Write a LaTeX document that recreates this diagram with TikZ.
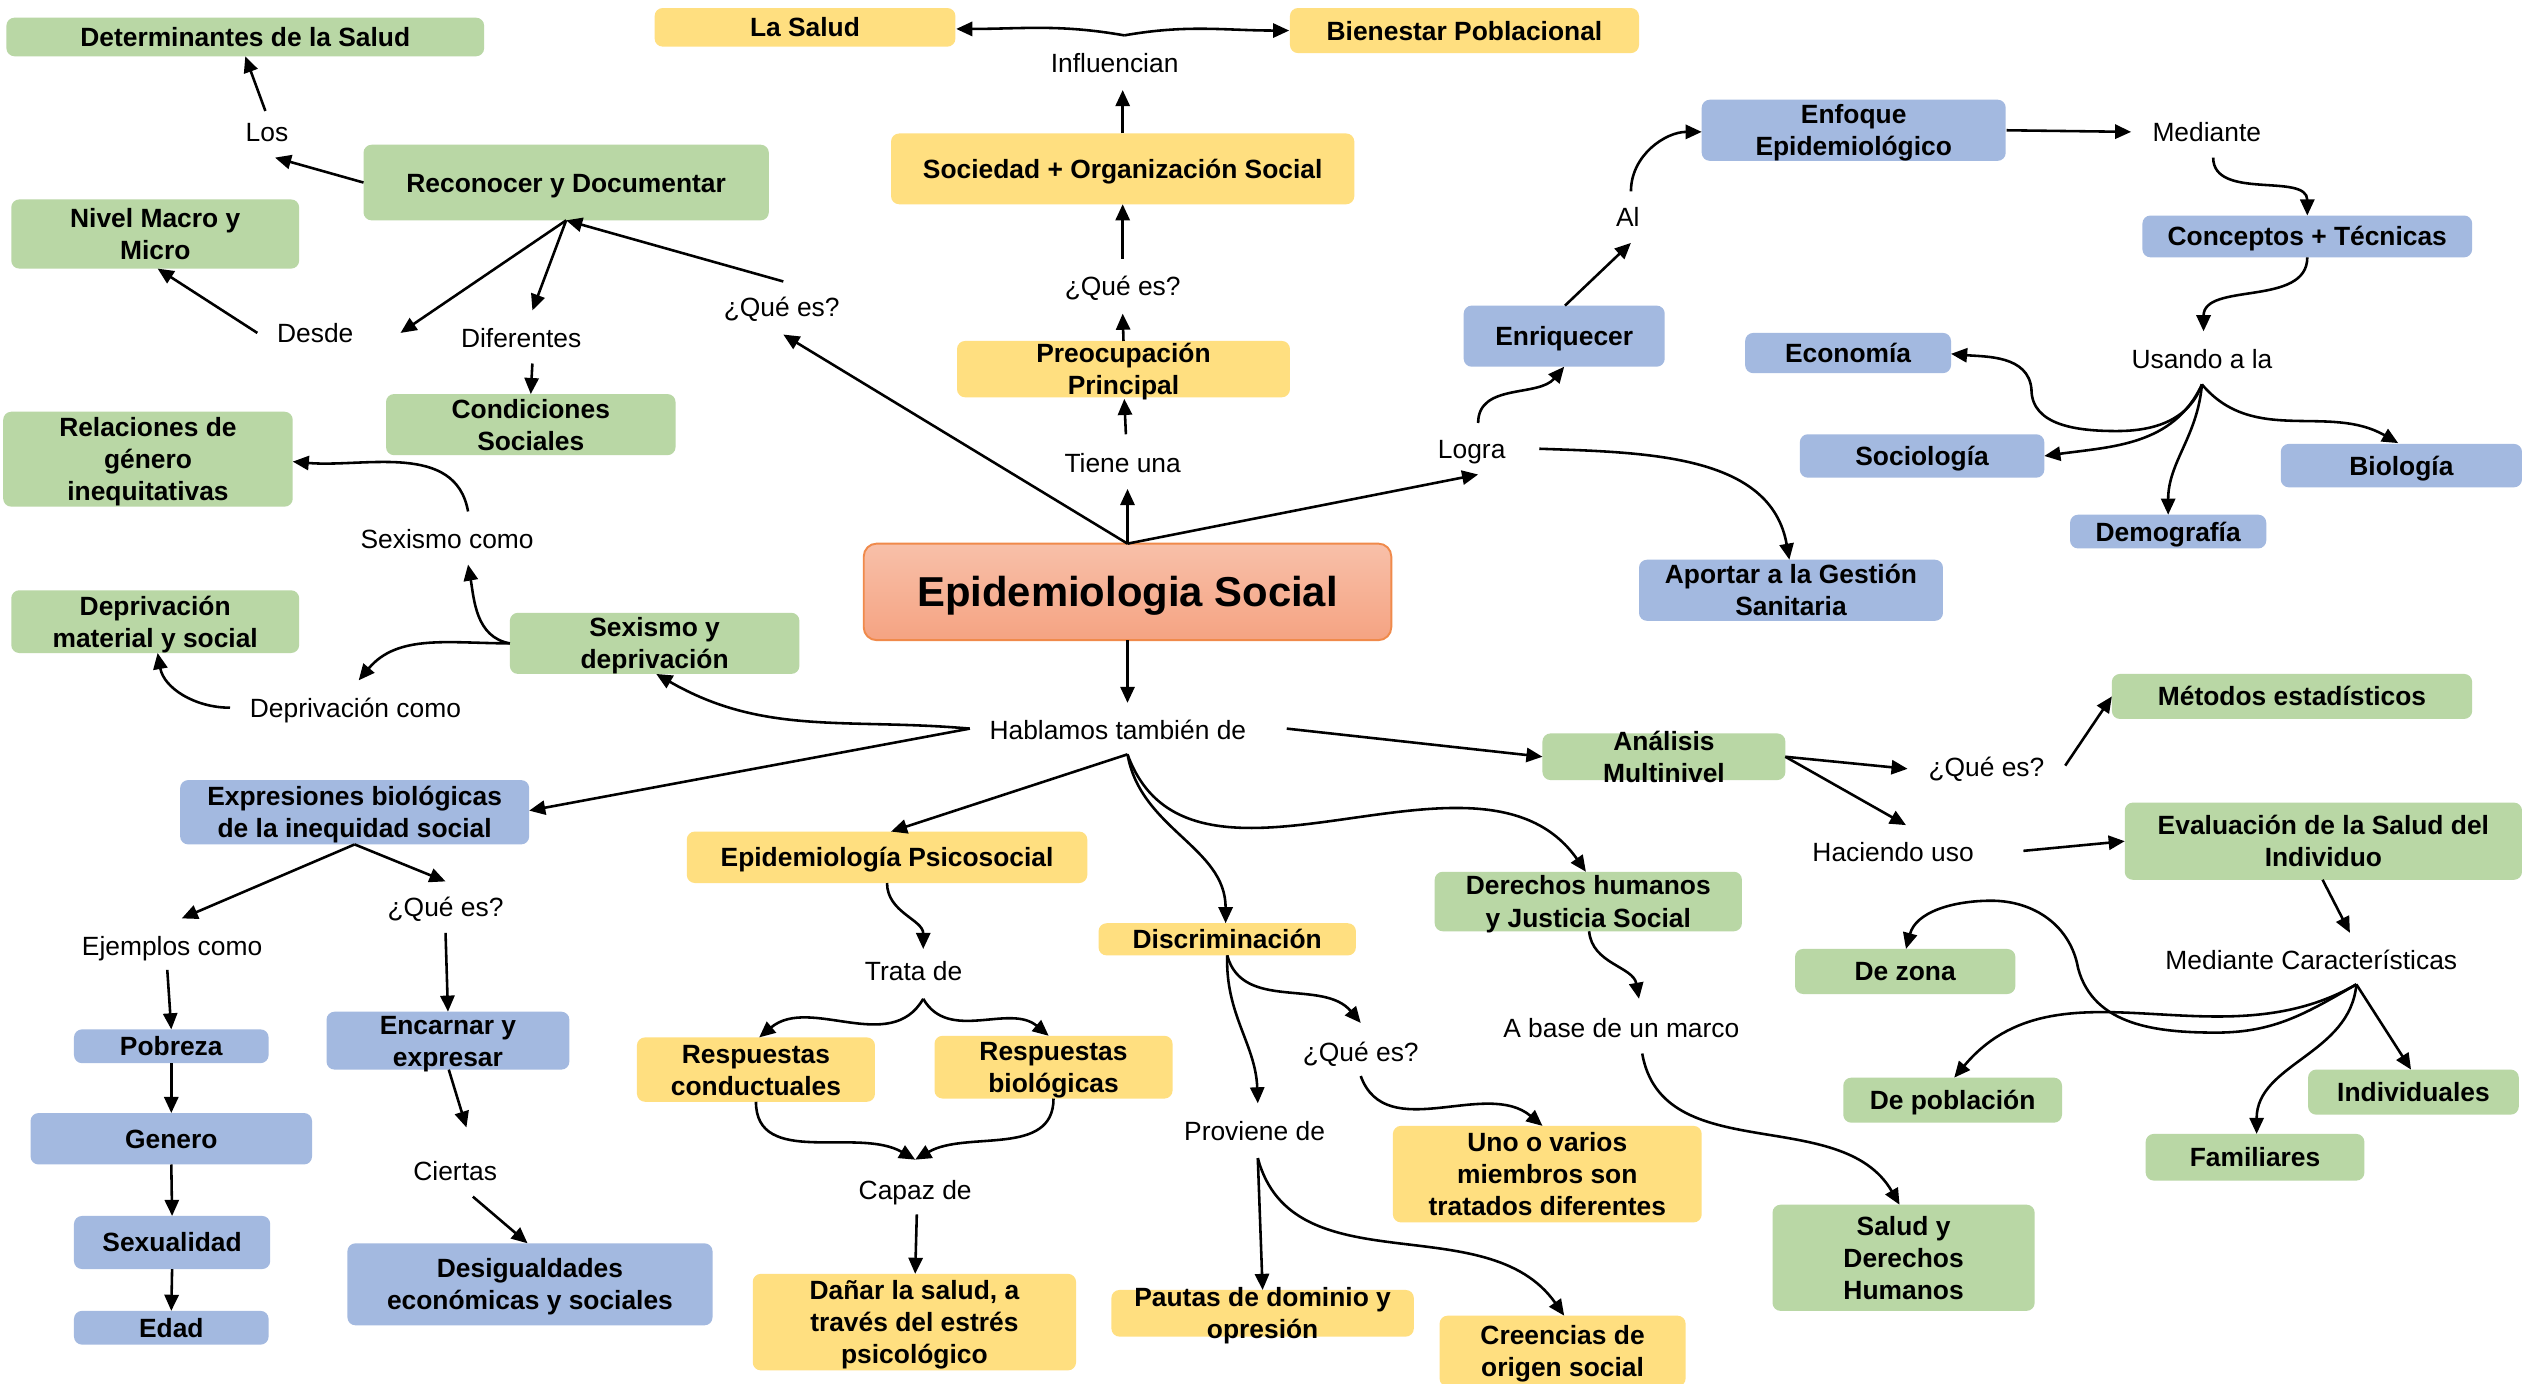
\documentclass[tikz,border=0pt]{standalone}
\usepackage{fontspec}
\setmainfont{Liberation Sans}
\usetikzlibrary{arrows.meta,calc}
\definecolor{gfill}{HTML}{B9D7A5}
\definecolor{yfill}{HTML}{FFDF80}
\definecolor{bfill}{HTML}{A3B9E0}
\definecolor{ttop}{HTML}{F8C0A9}
\definecolor{tbot}{HTML}{F5A382}
\definecolor{tline}{HTML}{F08A4B}
\newcommand\mkbox[7]{%
  \pgfmathsetmacro\mkbw{(#5-#3)*0.5}%
  \pgfmathsetmacro\mkbh{(#6-#4)*0.5}%
  \node[#2, minimum width=\mkbw pt, minimum height=\mkbh pt] (#1) at ({(#3+#5)/2},{-(#4+#6)/2}) {};
  \node[boxtext] (#1t) at (#1.center) {\rule{0pt}{8.2pt}#7\rule[-2.3pt]{0pt}{2.3pt}};}
\newcommand\mklbl[4]{\node[lbl] (#1) at (#2,-#3) {#4};}
\begin{document}
\begin{tikzpicture}[x=0.5pt,y=0.5pt,
  box/.style={rounded corners=2.5pt, inner sep=0pt},
  gbox/.style={box, fill=gfill},
  ybox/.style={box, fill=yfill},
  bbox/.style={box, fill=bfill},
  boxtext/.style={font=\bfseries\fontsize{8.2}{10}\selectfont, align=center, inner sep=0pt},
  lbl/.style={font=\fontsize{8.2}{10}\selectfont, inner xsep=4pt, inner ysep=4.5pt, text height=6pt, text depth=0.1pt},
  arr/.style={-{Triangle[length=5pt,width=4.4pt]}, line width=0.8pt},
  titlebox/.style={rounded corners=4pt, draw=tline, line width=0.6pt, top color=ttop, bottom color=tbot, inner sep=0pt,
    text height=12.6pt, text depth=3.3pt, font=\bfseries\fontsize{13}{15}\selectfont}]
\fill[white] (0,0) rectangle (1568,-860);
\useasboundingbox (0,0) rectangle (1568,-860);

% boxes
\mkbox{det}{gbox}{4}{11}{301}{35}{Determinantes de la Salud}
\mkbox{lasal}{ybox}{407}{5}{594}{29}{La Salud}
\mkbox{bien}{ybox}{802}{5}{1019}{33}{Bienestar Poblacional}
\mkbox{reco}{gbox}{226}{90}{478}{137}{Reconocer y Documentar}
\mkbox{nivel}{gbox}{7}{124}{186}{167}{Nivel Macro y\\Micro}
\mkbox{cond}{gbox}{240}{245}{420}{283}{Condiciones\\Sociales}
\mkbox{soc}{ybox}{554}{83}{842}{127}{Sociedad + Organización Social}
\mkbox{preo}{ybox}{595}{212}{802}{247}{Preocupación\\Principal}
\mkbox{enr}{bbox}{910}{190}{1035}{228}{Enriquecer}
\mkbox{enf}{bbox}{1058}{62}{1247}{100}{Enfoque\\Epidemiológico}
\mkbox{conc}{bbox}{1332}{134}{1537}{160}{Conceptos + Técnicas}
\mkbox{econ}{bbox}{1085}{207}{1213}{232}{Economía}
\mkbox{socio}{bbox}{1119}{270}{1271}{297}{Sociología}
\mkbox{bio}{bbox}{1418}{276}{1568}{303}{Biología}
\mkbox{demog}{bbox}{1287}{320}{1409}{341}{Demografía}
\mkbox{aport}{bbox}{1019}{348}{1208}{386}{Aportar a la Gestión\\Sanitaria}
\mkbox{rel}{gbox}{2}{256}{182}{315}{Relaciones de\\género\\inequitativas}
\mkbox{depmat}{gbox}{7}{367}{186}{406}{Deprivación\\material y social}
\mkbox{sexdep}{gbox}{317}{381}{497}{419}{Sexismo y\\deprivación}
\mkbox{expr}{bbox}{112}{485}{329}{525}{Expresiones biológicas\\de la inequidad social}
\mkbox{pob}{bbox}{46}{640}{167}{661}{Pobreza}
\mkbox{gen}{bbox}{19}{692}{194}{724}{Genero}
\mkbox{sexu}{bbox}{46}{756}{168}{789}{Sexualidad}
\mkbox{edad}{bbox}{46}{815}{167}{836}{Edad}
\mkbox{enc}{bbox}{203}{629}{354}{665}{Encarnar y\\expresar}
\mkbox{desig}{bbox}{216}{773}{443}{824}{Desigualdades\\económicas y sociales}
\mkbox{epsi}{ybox}{427}{517}{676}{549}{Epidemiología Psicosocial}
\mkbox{respc}{ybox}{396}{645}{544}{685}{Respuestas\\conductuales}
\mkbox{respb}{ybox}{581}{644}{729}{683}{Respuestas\\biológicas}
\mkbox{danar}{ybox}{468}{792}{669}{852}{Dañar la salud, a\\través del estrés\\psicológico}
\mkbox{disc}{ybox}{683}{574}{843}{594}{Discriminación}
\mkbox{uno}{ybox}{866}{700}{1058}{760}{Uno o varios\\miembros son\\tratados diferentes}
\mkbox{pautas}{ybox}{691}{802}{879}{831}{Pautas de dominio y\\opresión}
\mkbox{creen}{ybox}{895}{818}{1048}{862}{Creencias de\\origen social}
\mkbox{derh}{gbox}{892}{542}{1083}{579}{Derechos humanos\\y Justicia Social}
\mkbox{sdh}{gbox}{1102}{749}{1265}{815}{Salud y\\Derechos\\Humanos}
\mkbox{anal}{gbox}{959}{456}{1110}{485}{Análisis\\Multinivel}
\mkbox{met}{gbox}{1313}{419}{1537}{447}{Métodos estadísticos}
\mkbox{eval}{gbox}{1321}{499}{1568}{547}{Evaluación de la Salud del\\Individuo}
\mkbox{dezona}{gbox}{1116}{590}{1253}{618}{De zona}
\mkbox{pobl}{gbox}{1146}{670}{1282}{698}{De población}
\mkbox{indiv}{gbox}{1435}{665}{1566}{693}{Individuales}
\mkbox{fam}{gbox}{1334}{705}{1470}{734}{Familiares}
\node[titlebox, minimum width=164pt, minimum height=30pt] (title) at (701,-368) {Epidemiologia Social};

% labels
\mklbl{infl}{693}{39}{Influencian}
\mklbl{los}{166}{82}{Los}
\mklbl{desde}{196}{207}{Desde}
\mklbl{dif}{324}{210}{Diferentes}
\mklbl{q1}{486}{191}{¿Qué es?}
\mklbl{q2}{698}{178}{¿Qué es?}
\mklbl{tiene}{698}{288}{Tiene una}
\mklbl{al}{1012}{135}{Al}
\mklbl{med}{1372}{82}{Mediante}
\mklbl{usando}{1369}{223}{Usando a la}
\mklbl{logra}{915}{279}{Logra}
\mklbl{sexc}{278}{335}{Sexismo como}
\mklbl{depc}{221}{440}{Deprivación como}
\mklbl{habl}{695}{454}{Hablamos también de}
\mklbl{ejem}{107}{588}{Ejemplos como}
\mklbl{q3}{277}{564}{¿Qué es?}
\mklbl{ciertas}{283}{728}{Ciertas}
\mklbl{trata}{568}{604}{Trata de}
\mklbl{capaz}{569}{740}{Capaz de}
\mklbl{qd}{846}{654}{¿Qué es?}
\mklbl{prov}{780}{703}{Proviene de}
\mklbl{abase}{1008}{639}{A base de un marco}
\mklbl{qr}{1235}{477}{¿Qué es?}
\mklbl{hac}{1177}{530}{Haciendo uso}
\mklbl{medc}{1437}{597}{Mediante Características}

% connectors
\draw[arr] ($(infl)+(6,17)$) to[out=170,in=0] ($(lasal)+(94,-1)$);
\draw[arr] ($(infl)+(6,17)$) to[out=10,in=180] ($(bien)+(-109,0)$);
\draw[arr] ($(soc)+(0,22)$) -- ($(infl)+(5,-17)$);
\draw[arr] ($(q2)+(0,17)$) -- ($(soc)+(0,-22)$);
\draw[arr] ($(preo)+(0,17.5)$) -- ($(q2)+(0,-17)$);
\draw[arr] ($(tiene)+(2,18)$) -- ($(preo)+(0.5,-18.5)$);
\draw[arr] ($(title)+(0,30)$) -- ($(tiene)+(3,-16)$);
\draw[arr] ($(title)+(0,30)$) -- ($(logra)+(4,-16)$);
\draw[arr] ($(title)+(0,30)$) -- ($(q1)+(1,-17)$);
\draw[arr] ($(q1)+(1,16)$) -- ($(reco)+(0,-23.5)$);
\draw[arr] ($(reco)+(0,-23.5)$) -- ($(desde)+(53,0)$);
\draw[arr] ($(reco)+(0,-23.5)$) -- ($(dif)+(7,17)$);
\draw[arr] ($(reco)+(-126,0)$) -- ($(los)+(5,-16)$);
\draw[arr] ($(los)+(-1,13)$) -- ($(det)+(0,-12)$);
\draw[arr] ($(desde)+(-36,0)$) -- ($(nivel)+(1.5,-21.5)$);
\draw[arr] ($(dif)+(7,-16)$) -- ($(cond)+(0,19)$);
\draw[arr] ($(enr)+(0.5,19)$) -- ($(al)+(2,-16)$);
\draw[arr] ($(al)+(2,16)$) to[out=90,in=180] ($(enf)+(-94.5,-1)$);
\draw[arr] ($(logra)+(4,16)$) to[out=90,in=-130] ($(enr)+(0,-19)$);
\draw[arr] ($(logra)+(42,0)$) to[out=-2,in=100] ($(aport)+(-1,19)$);
\draw[arr] ($(enf)+(95,0)$) -- ($(med)+(-47,0)$);
\draw[arr] ($(med)+(4,-16)$) to[out=-90,in=90] ($(conc)+(0,13)$);
\draw[arr] ($(conc)+(0,-13)$) to[out=-90,in=90] ($(usando)+(1,17)$);
\draw[arr] ($(usando)+(0,-16)$) to[out=-110,in=0] ($(usando)+(-53,-45)$) to[out=180,in=-90] ($(usando)+(-106,-19)$) to[out=95,in=-5] ($(econ)+(64,-0.5)$);
\draw[arr] ($(usando)+(0,-16)$) to[out=-115,in=8] ($(socio)+(76,0)$);
\draw[arr] ($(usando)+(0,-16)$) to[out=-95,in=90] ($(demog)+(0,10.5)$);
\draw[arr] ($(usando)+(0,-16)$) to[out=-50,in=150] ($(bio)+(-2,14)$);
\draw[arr] ($(sexdep)+(-90,0)$) to[out=170,in=-80] ($(sexc)+(13,-16)$);
\draw[arr] ($(sexc)+(13,17)$) to[out=100,in=-5] ($(rel)+(90,-1.5)$);
\draw[arr] ($(sexdep)+(-90,0)$) to[out=180,in=50] ($(depc)+(2,17)$);
\draw[arr] ($(depc)+(-78,0)$) to[out=180,in=-80] ($(depmat)+(1.5,-19.5)$);
\draw[arr] ($(habl)+(-92,1)$) to[out=175,in=-30] ($(sexdep)+(1,-19)$);
\draw[arr] ($(habl)+(-92,1)$) -- ($(expr)+(108.5,1)$);
\draw[arr] ($(expr)+(0,-20)$) -- ($(ejem)+(6,17)$);
\draw[arr] ($(expr)+(0,-20)$) -- ($(q3)+(0,16)$);
\draw[arr] ($(ejem)+(-3,-15)$) -- ($(pob)+(0,10.5)$);
\draw[arr] ($(pob)+(0,-10.5)$) -- ($(gen)+(0,16)$);
\draw[arr] ($(gen)+(0,-16)$) -- ($(sexu)+(0,16.5)$);
\draw[arr] ($(sexu)+(0,-16.5)$) -- ($(edad)+(0,10.5)$);
\draw[arr] ($(q3)+(0,-16)$) -- ($(enc)+(0,18)$);
\draw[arr] ($(enc)+(0.5,-18)$) -- ($(ciertas)+(7,27)$);
\draw[arr] ($(ciertas)+(11,-16)$) -- ($(desig)+(-1.5,25.5)$);
\draw[arr] ($(title)+(0,-30)$) -- ($(habl)+(6,17)$);
\draw[arr] ($(habl)+(105,1)$) -- ($(anal)+(-75.5,0)$);
\draw[arr] ($(habl)+(6,-15)$) -- ($(epsi)+(2.5,16)$);
\draw[arr] ($(habl)+(6,-15)$) to[out=-80,in=90] ($(disc)+(-1,10)$);
\draw[arr] ($(habl)+(6,-15)$) to[out=-70,in=125] ($(derh)+(-1.5,18.5)$);
\draw[arr] ($(epsi)+(0,-16)$) to[out=-90,in=90] ($(trata)+(6,14)$);
\draw[arr] ($(trata)+(6,-17)$) to[out=-120,in=40] ($(respc)+(2,20)$);
\draw[arr] ($(trata)+(6,-17)$) to[out=-60,in=140] ($(respb)+(-3,19.5)$);
\draw[arr] ($(respc)+(0,-20)$) to[out=-90,in=150] ($(capaz)+(0,19)$);
\draw[arr] ($(respb)+(0,-19.5)$) to[out=-90,in=30] ($(capaz)+(0,19)$);
\draw[arr] ($(capaz)+(1,-15)$) -- ($(danar)+(0.5,30)$);
\draw[arr] ($(disc)+(0,-10)$) to[out=-75,in=130] ($(qd)+(0,18)$);
\draw[arr] ($(disc)+(0,-10)$) to[out=-92,in=92] ($(prov)+(2,17)$);
\draw[arr] ($(qd)+(0,-15)$) to[out=-70,in=140] ($(uno)+(-3,30)$);
\draw[arr] ($(prov)+(2,-17)$) -- ($(pautas)+(0,14.5)$);
\draw[arr] ($(prov)+(2,-17)$) to[out=-75,in=125] ($(creen)+(1,22)$);
\draw[arr] ($(derh)+(0.5,-18.5)$) to[out=-85,in=100] ($(abase)+(11,18)$);
\draw[arr] ($(abase)+(13,-16)$) to[out=-80,in=120] ($(sdh)+(-2.5,33)$);
\draw[arr] ($(anal)+(75.5,0)$) -- ($(qr)+(-49,-1)$);
\draw[arr] ($(anal)+(75.5,0)$) -- ($(hac)+(8,17)$);
\draw[arr] ($(qr)+(49,1)$) -- ($(met)+(-112,0)$);
\draw[arr] ($(hac)+(81,1)$) -- ($(eval)+(-123.5,0)$);
\draw[arr] ($(eval)+(-0.5,-24)$) -- ($(medc)+(24,17)$);
\draw[arr] ($(medc)+(28,-15)$) -- ($(indiv)+(-1.5,14)$);
\draw[arr] ($(medc)+(28,-15)$) to[out=-95,in=90] ($(fam)+(1,14.5)$);
\draw[arr] ($(medc)+(28,-15)$) to[out=-150,in=50] ($(pobl)+(1,14)$);
\draw[arr] ($(medc)+(28,-15)$) to[out=-150,in=0] ($(medc)+(-59,-45)$) to[out=180,in=-75] ($(medc)+(-145,-5)$) to[out=100,in=0] ($(medc)+(-199,37)$) to[out=180,in=75] ($(dezona)+(0.5,14)$);
\end{tikzpicture}
\end{document}
